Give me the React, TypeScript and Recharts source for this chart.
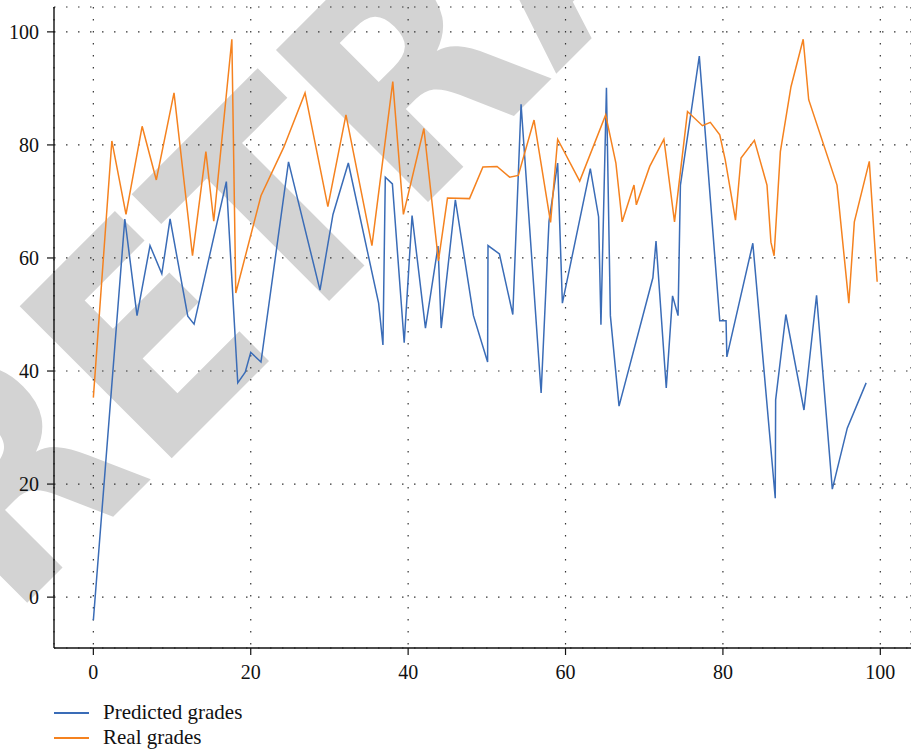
import React from 'react';
import { LineChart, Line, XAxis, YAxis, CartesianGrid } from 'recharts';

const xTicks = [0, 20, 40, 60, 80, 100];
const yTicks = [0, 20, 40, 60, 80, 100];

const predictedX = [
  0, 4.0, 5.55, 7.2, 8.7, 9.75, 12.0, 12.8, 16.9, 18.35, 19.3, 20.0, 21.3, 24.8, 28.8, 30.45,
  32.4, 36.25, 36.8, 37.1, 38.0, 39.5, 40.5, 42.2, 43.8, 44.2, 46.0, 48.3, 50.1, 50.15, 51.6,
  53.3, 54.35, 56.9, 57.9, 59.0, 59.6, 63.15, 64.2, 64.5, 65.2, 65.7, 66.8, 71.1, 71.5, 72.8,
  73.6, 74.3, 74.6, 77.0, 79.6, 80.4, 80.5, 83.8, 86.65, 86.7, 88.0, 90.3, 91.9, 93.9, 95.8, 98.2,
];
const predictedY = [
  -4.1, 66.9, 49.8, 62.2, 57.2, 66.9, 49.7, 48.3, 73.5, 37.9, 39.8, 43.3, 41.6, 77.0, 54.3, 67.7,
  76.8, 52.0, 44.6, 74.3, 73.1, 45.0, 67.5, 47.6, 62.1, 47.6, 70.3, 49.8, 41.6, 62.2, 60.7,
  50.0, 87.2, 36.1, 66.5, 76.8, 52.0, 75.8, 67.3, 48.2, 90.1, 49.8, 33.8, 56.5, 63.0, 37.0,
  53.3, 49.8, 72.9, 95.7, 48.9, 48.9, 42.5, 62.6, 17.5, 34.9, 50.0, 33.1, 53.4, 19.1, 29.9, 37.9,
];

const realX = [
  0, 2.35, 4.15, 6.2, 8.0, 10.25, 12.6, 14.3, 15.3, 17.6, 18.1, 21.3, 24.2, 26.9, 29.8, 32.1,
  35.4, 38.05, 39.4, 42.0, 43.85, 45.0, 47.8, 49.5, 51.3, 52.9, 54.0, 56.0, 58.1, 59.0, 61.8,
  65.1, 66.4, 67.2, 68.7, 69.0, 70.7, 72.5, 73.85, 75.5, 77.4, 78.4, 79.6, 80.3, 81.6, 82.3,
  84.0, 85.6, 86.1, 86.5, 87.3, 88.65, 90.2, 90.9, 94.5, 96.0, 96.7, 98.6, 99.6,
];
const realY = [
  35.3, 80.7, 67.7, 83.3, 73.8, 89.2, 60.4, 78.8, 66.5, 98.7, 53.8, 71.0, 79.6, 89.2, 69.1, 85.3,
  62.2, 91.2, 67.7, 82.9, 59.5, 70.6, 70.5, 76.1, 76.2, 74.3, 74.6, 84.4, 66.3, 81.0, 73.6,
  85.3, 76.8, 66.4, 72.9, 69.4, 76.2, 81.0, 66.4, 85.9, 83.4, 84.0, 81.8, 77.3, 66.7, 77.7,
  80.8, 72.9, 62.8, 60.4, 78.8, 90.3, 98.7, 88.0, 72.9, 52.0, 66.4, 77.1, 55.8,
];

const predicted = predictedX.map((x, i) => ({ x, y: predictedY[i] }));
const real = realX.map((x, i) => ({ x, y: realY[i] }));

const BLUE = '#3a6cb7';
const ORANGE = '#f5821f';
const serif = '"Liberation Serif", "Times New Roman", serif';

const tickStyle = { fontSize: 20, fontFamily: serif, fill: '#111' };

export default function App() {
  return (
    <div style={{ position: 'absolute', left: 0, top: 0, width: 911, height: 753, background: '#fff', overflow: 'hidden' }}>
      {/* watermark behind the chart */}
      <svg width={911} height={753} style={{ position: 'absolute', left: 0, top: 0 }}>
        <text
          x={10}
          y={620}
          transform="rotate(-45 10 620)"
          fontSize={295}
          fontWeight="bold"
          fontFamily='"DejaVu Sans Condensed", "DejaVu Sans", sans-serif'
          fill="#d3d3d3"
        >
          RETRACTED
        </text>
      </svg>

      <div style={{ position: 'absolute', left: 0, top: 0 }}>
        <LineChart width={911} height={700} margin={{ top: 7, right: 0, bottom: 12, left: 0 }}>
          <CartesianGrid
            stroke="#333"
            strokeWidth={1.2}
            strokeDasharray="1.5 10.5"
            horizontal
            vertical
          />
          <XAxis
            dataKey="x"
            type="number"
            domain={[-5, 103.9]}
            ticks={xTicks}
            allowDataOverflow
            height={40}
            tickSize={7}
            tickMargin={10}
            tick={tickStyle}
            axisLine={{ stroke: '#111', strokeWidth: 1.4 }}
            tickLine={{ stroke: '#111', strokeWidth: 1.2 }}
          />
          <XAxis
            xAxisId="top"
            orientation="top"
            dataKey="x"
            type="number"
            domain={[-5, 103.9]}
            height={0}
            tick={false}
            tickLine={false}
            axisLine={{ stroke: '#111', strokeWidth: 1.4 }}
          />
          <YAxis
            type="number"
            domain={[-9, 104.4]}
            ticks={yTicks}
            allowDataOverflow
            width={54}
            tickSize={7}
            tickMargin={8}
            tick={tickStyle}
            axisLine={{ stroke: '#111', strokeWidth: 1.4 }}
            tickLine={{ stroke: '#111', strokeWidth: 1.2 }}
          />
          <Line
            data={predicted}
            dataKey="y"
            name="Predicted grades"
            type="linear"
            stroke={BLUE}
            strokeWidth={1.5}
            dot={false}
            isAnimationActive={false}
          />
          <Line
            data={real}
            dataKey="y"
            name="Real grades"
            type="linear"
            stroke={ORANGE}
            strokeWidth={1.5}
            dot={false}
            isAnimationActive={false}
          />
        </LineChart>
      </div>

      {/* legend */}
      <div style={{ position: 'absolute', left: 54, top: 700, fontFamily: serif, fontSize: 21, color: '#111' }}>
        {[
          { label: 'Predicted grades', color: BLUE },
          { label: 'Real grades', color: ORANGE },
        ].map((item) => (
          <div key={item.label} style={{ display: 'flex', alignItems: 'center', height: 25 }}>
            <span style={{ display: 'inline-block', width: 35, height: 2, background: item.color, marginRight: 14 }} />
            <span style={{ lineHeight: '25px' }}>{item.label}</span>
          </div>
        ))}
      </div>
    </div>
  );
}
